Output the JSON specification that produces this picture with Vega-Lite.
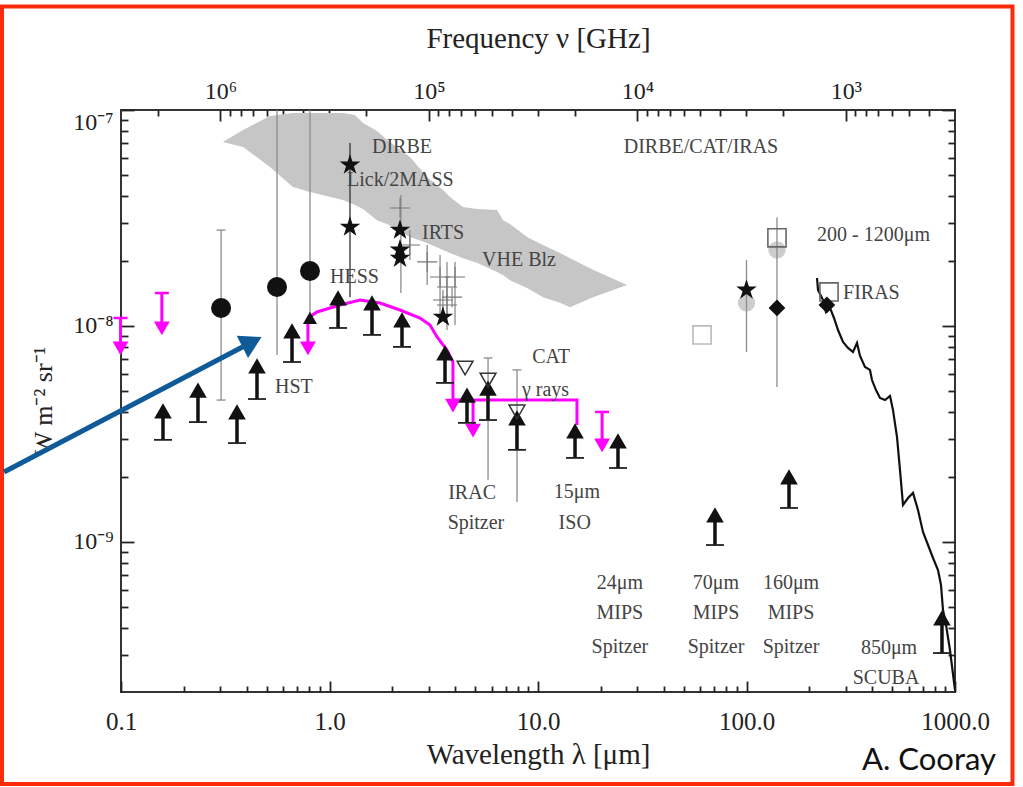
{
"$schema":"https://vega.github.io/schema/vega-lite/v6.json",
"width":834,"height":582,
"autosize":{"type":"none"},
"padding":{"left":121,"top":110,"right":68,"bottom":95},
"background":"white",
"config":{"view":{"stroke":"#333","strokeWidth":2},
"axis":{"domain":false,"grid":false,"ticks":true,"tickColor":"#222","tickWidth":1.8,"tickOpacity":1,"labelFont":"Liberation Serif","labelFontSize":25,"labelColor":"#222","titleFont":"Liberation Serif","titleFontWeight":"normal","titleColor":"#222","labelOverlap":false,"labelBound":false}},
"datasets":{
"dummy":[{"lam":1,"f":1e-8,"nu":100000}],
"frame":[{"x1":0.02687,"x2":1887,"y1":3.014e-7,"y2":7.58e-11}],
"band":[{"lam":0.308,"top":7.11e-8,"bot":7.11e-8},{"lam":0.385,"top":8.08e-8,"bot":6.74e-8},{"lam":0.518,"top":9.38e-8,"bot":5.45e-8},{"lam":0.668,"top":9.69e-8,"bot":4.40e-8},{"lam":0.806,"top":9.69e-8,"bot":4.17e-8},{"lam":1.161,"top":9.69e-8,"bot":3.83e-8},{"lam":1.325,"top":9.48e-8,"bot":3.63e-8},{"lam":1.448,"top":8.71e-8,"bot":3.48e-8},{"lam":1.690,"top":7.99e-8,"bot":3.09e-8},{"lam":1.887,"top":7.26e-8,"bot":2.97e-8},{"lam":2.433,"top":6.06e-8,"bot":2.58e-8},{"lam":2.935,"top":4.89e-8,"bot":2.42e-8},{"lam":3.503,"top":4.26e-8,"bot":2.25e-8},{"lam":3.784,"top":3.96e-8,"bot":2.18e-8},{"lam":4.368,"top":3.56e-8,"bot":2.06e-8},{"lam":5.098,"top":3.48e-8,"bot":1.96e-8},{"lam":6.360,"top":3.44e-8,"bot":1.78e-8},{"lam":6.794,"top":3.09e-8,"bot":1.72e-8},{"lam":7.340,"top":2.97e-8,"bot":1.63e-8},{"lam":8.856,"top":2.58e-8,"bot":1.50e-8},{"lam":10.57,"top":2.37e-8,"bot":1.36e-8},{"lam":12.75,"top":2.18e-8,"bot":1.28e-8},{"lam":14.24,"top":2.06e-8,"bot":1.22e-8},{"lam":18.36,"top":1.82e-8,"bot":1.36e-8},{"lam":26.73,"top":1.55e-8,"bot":1.55e-8}],
"greybars":[{"lam":0.302,"hi":2.78e-8,"lo":4.54e-9},{"lam":0.560,"hi":1e-7,"lo":7.34e-9},{"lam":0.806,"hi":1e-7,"lo":1.089e-8},{"lam":2.2,"hi":4.04e-8,"lo":1.421e-8},{"lam":100,"hi":2.02e-8,"lo":7.58e-9},{"lam":140,"hi":3.19e-8,"lo":5.22e-9},{"lam":5.76,"hi":7.11e-9,"lo":1.94e-9},{"lam":7.93,"hi":6.26e-9,"lo":1.53e-9},{"lam":2.43,"hi":2.78e-8,"lo":2.02e-8},{"lam":2.94,"hi":2.37e-8,"lo":1.55e-8},{"lam":3.39,"hi":2.13e-8,"lo":1.07e-8},{"lam":3.66,"hi":1.98e-8,"lo":9.58e-9},{"lam":4.0,"hi":1.98e-8,"lo":1.011e-8},{"lam":866,"hi":4.45e-10,"lo":3.06e-10}],
"blackbars":[{"lam":1.254,"hi":7.03e-8,"lo":1.36e-8}],
"greycaps":[{"lam":0.302,"f":2.78e-8},{"lam":0.302,"f":4.54e-9},{"lam":5.76,"f":7.11e-9},{"lam":7.93,"f":6.26e-9},{"lam":866,"f":3.06e-10}],
"crosses":[{"lam":2.18,"f":3.52e-8},{"lam":2.43,"f":2.37e-8},{"lam":2.94,"f":1.98e-8},{"lam":3.39,"f":1.686e-8},{"lam":3.66,"f":1.516e-8},{"lam":3.87,"f":1.36e-8},{"lam":3.50,"f":1.319e-8},{"lam":4.0,"f":1.686e-8},{"lam":3.66,"f":1.25e-8}],
"firas":[{"lam":217.9,"f":1.668e-8},{"lam":220.3,"f":1.468e-8},{"lam":232.8,"f":1.319e-8},{"lam":240.6,"f":1.161e-8},{"lam":251.5,"f":1.212e-8},{"lam":262.8,"f":1.089e-8},{"lam":274.7,"f":9.58e-9},{"lam":290.3,"f":8.43e-9},{"lam":306.8,"f":7.91e-9},{"lam":324.2,"f":7.58e-9},{"lam":338.8,"f":8.34e-9},{"lam":350.3,"f":7.26e-9},{"lam":370.1,"f":6.46e-9},{"lam":391.0,"f":6.26e-9},{"lam":399.8,"f":5.62e-9},{"lam":417.9,"f":5.05e-9},{"lam":436.8,"f":4.64e-9},{"lam":461.6,"f":4.54e-9},{"lam":487.9,"f":4.74e-9},{"lam":504.3,"f":4.08e-9},{"lam":527.1,"f":3.06e-9},{"lam":544.8,"f":2.15e-9},{"lam":563.2,"f":1.483e-9},{"lam":595.1,"f":1.598e-9},{"lam":628.9,"f":1.686e-9},{"lam":664.5,"f":1.406e-9},{"lam":702.2,"f":1.112e-9},{"lam":742.3,"f":9.68e-10},{"lam":784.4,"f":8.43e-10},{"lam":828.8,"f":7.42e-10},{"lam":856.7,"f":6.32e-10},{"lam":875.9,"f":4.84e-10},{"lam":905.4,"f":4.13e-10},{"lam":946.2,"f":3.16e-10},{"lam":1000,"f":2.06e-10}],
"magline":[{"i":1,"lam":0.788,"f":1.089e-8},{"i":2,"lam":0.871,"f":1.161e-8},{"i":3,"lam":1.123,"f":1.251e-8},{"i":4,"lam":1.401,"f":1.319e-8},{"i":5,"lam":1.747,"f":1.278e-8},{"i":6,"lam":2.178,"f":1.186e-8},{"i":7,"lam":2.717,"f":1.089e-8},{"i":8,"lam":3.034,"f":1.011e-8},{"i":9,"lam":3.279,"f":8.89e-9},{"i":10,"lam":3.660,"f":7.74e-9},{"i":11,"lam":3.91,"f":6.81e-9},{"i":12,"lam":3.91,"f":4.54e-9},{"i":13,"lam":15.38,"f":4.54e-9},{"i":14,"lam":15.38,"f":3.48e-9}],
"uplim":[{"lam":0.0995,"top":1.089e-8,"head":7.87e-9},{"lam":0.157,"top":1.421e-8,"head":9.74e-9},{"lam":0.788,"top":1.089e-8,"head":7.87e-9},{"lam":3.91,"top":4.54e-9,"head":4.28e-9},{"lam":4.88,"top":4.54e-9,"head":3.28e-9},{"lam":20.3,"top":4.00e-9,"head":2.80e-9}],
"uplimcaps":[{"lam":0.0995,"f":1.089e-8},{"lam":0.157,"f":1.421e-8},{"lam":20.3,"f":4.00e-9}],
"lowlim":[{"lam":0.159,"head":4.04e-9,"cap":2.97e-9},{"lam":0.234,"head":5.05e-9,"cap":3.59e-9},{"lam":0.36,"head":4.00e-9,"cap":2.87e-9},{"lam":0.449,"head":6.53e-9,"cap":4.59e-9},{"lam":0.661,"head":9.48e-9,"cap":6.81e-9},{"lam":1.099,"head":1.348e-8,"cap":9.79e-9},{"lam":1.599,"head":1.278e-8,"cap":9.09e-9},{"lam":2.227,"head":1.066e-8,"cap":8.00e-9},{"lam":3.581,"head":7.50e-9,"cap":5.45e-9},{"lam":4.565,"head":4.79e-9,"cap":3.56e-9},{"lam":5.756,"head":5.16e-9,"cap":3.67e-9},{"lam":7.928,"head":3.75e-9,"cap":2.67e-9},{"lam":15.05,"head":3.27e-9,"cap":2.45e-9},{"lam":24.19,"head":2.94e-9,"cap":2.20e-9},{"lam":70.6,"head":1.334e-9,"cap":9.68e-10},{"lam":159.9,"head":2.00e-9,"cap":1.437e-9},{"lam":866,"head":4.45e-10,"cap":3.06e-10}],
"tri":[{"lam":0.806,"f":1.09e-8}],
"circles":[{"lam":0.302,"f":1.212e-8},{"lam":0.560,"f":1.516e-8},{"lam":0.806,"f":1.797e-8}],
"blobs":[{"lam":100,"f":1.28e-8},{"lam":140,"f":2.25e-8}],
"stars":[{"lam":1.254,"f":5.57e-8},{"lam":1.254,"f":2.87e-8},{"lam":2.178,"f":2.78e-8},{"lam":2.178,"f":2.25e-8},{"lam":2.178,"f":2.06e-8},{"lam":3.50,"f":1.10e-8},{"lam":100,"f":1.468e-8}],
"opentri":[{"lam":4.47,"f":6.39e-9},{"lam":5.76,"f":5.62e-9},{"lam":7.93,"f":4.0e-9}],
"sqlight":[{"lam":61.2,"f":9.09e-9}],
"sqdark":[{"lam":140,"f":2.56e-8},{"lam":248.7,"f":1.437e-8}],
"diamonds":[{"lam":140,"f":1.212e-8},{"lam":243,"f":1.251e-8}],
"textleft":[{"lam":1.213,"f":4.74e-8,"t":"Lick/2MASS"},{"lam":2.777,"f":2.69e-8,"t":"IRTS"},{"lam":5.39,"f":2.02e-8,"t":"VHE Blz"},{"lam":1.006,"f":1.686e-8,"t":"HESS"},{"lam":0.548,"f":5.22e-9,"t":"HST"},{"lam":8.38,"f":5.05e-9,"t":"γ rays"},{"lam":217.9,"f":2.64e-8,"t":"200 - 1200μm"},{"lam":290.3,"f":1.421e-8,"t":"FIRAS"}],
"textcenter":[{"lam":2.227,"f":6.74e-8,"t":"DIRBE"},{"lam":60.5,"f":6.74e-8,"t":"DIRBE/CAT/IRAS"},{"lam":11.55,"f":7.19e-9,"t":"CAT"},{"lam":4.83,"f":1.686e-9,"t":"IRAC"},{"lam":5.04,"f":1.225e-9,"t":"Spitzer"},{"lam":15.38,"f":1.704e-9,"t":"15μm"},{"lam":15.0,"f":1.225e-9,"t":"ISO"},{"lam":24.7,"f":6.46e-10,"t":"24μm"},{"lam":24.7,"f":4.69e-10,"t":"MIPS"},{"lam":24.7,"f":3.27e-10,"t":"Spitzer"},{"lam":71.4,"f":6.46e-10,"t":"70μm"},{"lam":71.4,"f":4.69e-10,"t":"MIPS"},{"lam":71.4,"f":3.27e-10,"t":"Spitzer"},{"lam":163.5,"f":6.46e-10,"t":"160μm"},{"lam":163.5,"f":4.69e-10,"t":"MIPS"},{"lam":163.5,"f":3.27e-10,"t":"Spitzer"},{"lam":482.6,"f":3.23e-10,"t":"850μm"},{"lam":466.9,"f":2.35e-10,"t":"SCUBA"}],
"blueline":[{"lam":0.02747,"f":2.11e-9},{"lam":0.4249,"f":8.43e-9}],
"bluehead":[{"lam":0.4249,"f":8.43e-9}],
"credit":[{"lam":750.5,"f":8.80e-11,"t":"A. Cooray"}]
},
"resolve":{"scale":{"x":"independent"},"axis":{"x":"independent"}},
"layer":[
{
"resolve":{"axis":{"x":"independent","y":"independent"}},
"layer":[
{"data":{"name":"frame"},"mark":{"type":"rect","clip":false,"filled":false,"color":"#fd2b0b","strokeWidth":4},
"encoding":{"x":{"field":"x1","type":"quantitative","scale":{"type":"log","domain":[0.1,1000],"nice":false},"axis":null},"x2":{"field":"x2"},"y":{"field":"y1","type":"quantitative","scale":{"type":"log","domain":[2.02e-10,1e-7],"nice":false},"axis":null},"y2":{"field":"y2"}}},
{"data":{"name":"band"},"mark":{"type":"area","color":"#c6c6c6","clip":true,"opacity":1},
"encoding":{"x":{"field":"lam","type":"quantitative","scale":{"type":"log","domain":[0.1,1000],"nice":false},"axis":null},"y":{"field":"top","type":"quantitative","scale":{"type":"log","domain":[2.02e-10,1e-7],"nice":false},"axis":null},"y2":{"field":"bot"}}},
{"data":{"name":"blobs"},"mark":{"type":"point","filled":true,"color":"#cdcdcd","opacity":1,"size":300,"clip":true},
"encoding":{"x":{"field":"lam","type":"quantitative","scale":{"type":"log","domain":[0.1,1000],"nice":false},"axis":null},"y":{"field":"f","type":"quantitative","scale":{"type":"log","domain":[2.02e-10,1e-7],"nice":false},"axis":null}}},
{"data":{"name":"greybars"},"mark":{"type":"rule","color":"#8c8c8c","strokeWidth":1.3,"clip":true},
"encoding":{"x":{"field":"lam","type":"quantitative","scale":{"type":"log","domain":[0.1,1000],"nice":false},"axis":null},"y":{"field":"hi","type":"quantitative","scale":{"type":"log","domain":[2.02e-10,1e-7],"nice":false},"axis":null},"y2":{"field":"lo"}}},
{"data":{"name":"blackbars"},"mark":{"type":"rule","color":"#333","strokeWidth":1.3,"clip":true},
"encoding":{"x":{"field":"lam","type":"quantitative","scale":{"type":"log","domain":[0.1,1000],"nice":false},"axis":null},"y":{"field":"hi","type":"quantitative","scale":{"type":"log","domain":[2.02e-10,1e-7],"nice":false},"axis":null},"y2":{"field":"lo"}}},
{"data":{"name":"crosses"},"mark":{"type":"point","shape":"M-1,0L1,0M0,-1L0,1","filled":false,"stroke":"#777","strokeWidth":1.1,"opacity":1,"size":400,"clip":true},
"encoding":{"x":{"field":"lam","type":"quantitative","scale":{"type":"log","domain":[0.1,1000],"nice":false},"axis":null},"y":{"field":"f","type":"quantitative","scale":{"type":"log","domain":[2.02e-10,1e-7],"nice":false},"axis":null}}},
{"data":{"name":"greycaps"},"mark":{"type":"tick","orient":"horizontal","size":9,"thickness":1.3,"color":"#8c8c8c","opacity":1,"clip":true},
"encoding":{"x":{"field":"lam","type":"quantitative","scale":{"type":"log","domain":[0.1,1000],"nice":false},"axis":null},"y":{"field":"f","type":"quantitative","scale":{"type":"log","domain":[2.02e-10,1e-7],"nice":false},"axis":null}}},
{"data":{"name":"firas"},"mark":{"type":"line","color":"#111","strokeWidth":2.2,"clip":true},
"encoding":{"x":{"field":"lam","type":"quantitative","scale":{"type":"log","domain":[0.1,1000],"nice":false},"axis":null},"y":{"field":"f","type":"quantitative","scale":{"type":"log","domain":[2.02e-10,1e-7],"nice":false},"axis":null}}},
{"data":{"name":"magline"},"mark":{"type":"line","color":"#ff00ff","strokeWidth":3,"clip":true},
"encoding":{"x":{"field":"lam","type":"quantitative","scale":{"type":"log","domain":[0.1,1000],"nice":false},"axis":null},"y":{"field":"f","type":"quantitative","scale":{"type":"log","domain":[2.02e-10,1e-7],"nice":false},"axis":null},"order":{"field":"i","type":"quantitative"}}},
{"data":{"name":"uplim"},"mark":{"type":"rule","color":"#ff00ff","strokeWidth":3,"clip":false},
"encoding":{"x":{"field":"lam","type":"quantitative","scale":{"type":"log","domain":[0.1,1000],"nice":false},"axis":null},"y":{"field":"top","type":"quantitative","scale":{"type":"log","domain":[2.02e-10,1e-7],"nice":false},"axis":null},"y2":{"field":"head"}}},
{"data":{"name":"uplimcaps"},"mark":{"type":"tick","orient":"horizontal","size":14,"thickness":2.5,"color":"#ff00ff","opacity":1,"clip":false},
"encoding":{"x":{"field":"lam","type":"quantitative","scale":{"type":"log","domain":[0.1,1000],"nice":false},"axis":null},"y":{"field":"f","type":"quantitative","scale":{"type":"log","domain":[2.02e-10,1e-7],"nice":false},"axis":null}}},
{"data":{"name":"uplim"},"mark":{"type":"point","shape":"triangle-down","filled":true,"color":"#ff00ff","opacity":1,"size":250,"clip":false},
"encoding":{"x":{"field":"lam","type":"quantitative","scale":{"type":"log","domain":[0.1,1000],"nice":false},"axis":null},"y":{"field":"head","type":"quantitative","scale":{"type":"log","domain":[2.02e-10,1e-7],"nice":false},"axis":null}}},
{"data":{"name":"lowlim"},"mark":{"type":"rule","color":"#111","strokeWidth":3.5,"clip":true},
"encoding":{"x":{"field":"lam","type":"quantitative","scale":{"type":"log","domain":[0.1,1000],"nice":false},"axis":null},"y":{"field":"head","type":"quantitative","scale":{"type":"log","domain":[2.02e-10,1e-7],"nice":false},"axis":null},"y2":{"field":"cap"}}},
{"data":{"name":"lowlim"},"mark":{"type":"tick","orient":"horizontal","size":18,"thickness":1.8,"color":"#222","opacity":1,"clip":true},
"encoding":{"x":{"field":"lam","type":"quantitative","scale":{"type":"log","domain":[0.1,1000],"nice":false},"axis":null},"y":{"field":"cap","type":"quantitative","scale":{"type":"log","domain":[2.02e-10,1e-7],"nice":false},"axis":null}}},
{"data":{"name":"lowlim"},"mark":{"type":"point","shape":"triangle-up","filled":true,"color":"#111","opacity":1,"size":310,"clip":true},
"encoding":{"x":{"field":"lam","type":"quantitative","scale":{"type":"log","domain":[0.1,1000],"nice":false},"axis":null},"y":{"field":"head","type":"quantitative","scale":{"type":"log","domain":[2.02e-10,1e-7],"nice":false},"axis":null}}},
{"data":{"name":"tri"},"mark":{"type":"point","shape":"triangle-up","filled":true,"color":"#111","opacity":1,"size":200,"clip":true},
"encoding":{"x":{"field":"lam","type":"quantitative","scale":{"type":"log","domain":[0.1,1000],"nice":false},"axis":null},"y":{"field":"f","type":"quantitative","scale":{"type":"log","domain":[2.02e-10,1e-7],"nice":false},"axis":null}}},
{"data":{"name":"circles"},"mark":{"type":"point","shape":"circle","filled":true,"color":"#111","opacity":1,"size":400,"clip":true},
"encoding":{"x":{"field":"lam","type":"quantitative","scale":{"type":"log","domain":[0.1,1000],"nice":false},"axis":null},"y":{"field":"f","type":"quantitative","scale":{"type":"log","domain":[2.02e-10,1e-7],"nice":false},"axis":null}}},
{"data":{"name":"stars"},"mark":{"type":"point","shape":"M0,-1L0.2245,-0.309L0.9511,-0.309L0.3633,0.118L0.5878,0.809L0,0.382L-0.5878,0.809L-0.3633,0.118L-0.9511,-0.309L-0.2245,-0.309Z","filled":true,"color":"#111","opacity":1,"size":470,"clip":true},
"encoding":{"x":{"field":"lam","type":"quantitative","scale":{"type":"log","domain":[0.1,1000],"nice":false},"axis":null},"y":{"field":"f","type":"quantitative","scale":{"type":"log","domain":[2.02e-10,1e-7],"nice":false},"axis":null}}},
{"data":{"name":"opentri"},"mark":{"type":"point","shape":"triangle-down","filled":false,"stroke":"#333","strokeWidth":1.5,"opacity":1,"size":250,"clip":true},
"encoding":{"x":{"field":"lam","type":"quantitative","scale":{"type":"log","domain":[0.1,1000],"nice":false},"axis":null},"y":{"field":"f","type":"quantitative","scale":{"type":"log","domain":[2.02e-10,1e-7],"nice":false},"axis":null}}},
{"data":{"name":"sqlight"},"mark":{"type":"point","shape":"square","filled":false,"stroke":"#bbbbbb","strokeWidth":1.6,"opacity":1,"size":330,"clip":true},
"encoding":{"x":{"field":"lam","type":"quantitative","scale":{"type":"log","domain":[0.1,1000],"nice":false},"axis":null},"y":{"field":"f","type":"quantitative","scale":{"type":"log","domain":[2.02e-10,1e-7],"nice":false},"axis":null}}},
{"data":{"name":"sqdark"},"mark":{"type":"point","shape":"square","filled":false,"stroke":"#666","strokeWidth":1.6,"opacity":1,"size":330,"clip":true},
"encoding":{"x":{"field":"lam","type":"quantitative","scale":{"type":"log","domain":[0.1,1000],"nice":false},"axis":null},"y":{"field":"f","type":"quantitative","scale":{"type":"log","domain":[2.02e-10,1e-7],"nice":false},"axis":null}}},
{"data":{"name":"diamonds"},"mark":{"type":"point","shape":"diamond","filled":true,"color":"#111","opacity":1,"size":280,"clip":true},
"encoding":{"x":{"field":"lam","type":"quantitative","scale":{"type":"log","domain":[0.1,1000],"nice":false},"axis":null},"y":{"field":"f","type":"quantitative","scale":{"type":"log","domain":[2.02e-10,1e-7],"nice":false},"axis":null}}},
{"data":{"name":"textleft"},"mark":{"type":"text","align":"left","baseline":"middle","font":"Liberation Serif","fontSize":20,"color":"#444"},
"encoding":{"x":{"field":"lam","type":"quantitative","scale":{"type":"log","domain":[0.1,1000],"nice":false},"axis":null},"y":{"field":"f","type":"quantitative","scale":{"type":"log","domain":[2.02e-10,1e-7],"nice":false},"axis":null},"text":{"field":"t"}}},
{"data":{"name":"textcenter"},"mark":{"type":"text","align":"center","baseline":"middle","font":"Liberation Serif","fontSize":20,"color":"#444"},
"encoding":{"x":{"field":"lam","type":"quantitative","scale":{"type":"log","domain":[0.1,1000],"nice":false},"axis":null},"y":{"field":"f","type":"quantitative","scale":{"type":"log","domain":[2.02e-10,1e-7],"nice":false},"axis":null},"text":{"field":"t"}}},
{"data":{"name":"blueline"},"mark":{"type":"line","color":"#0f5b9a","strokeWidth":5,"clip":false},
"encoding":{"x":{"field":"lam","type":"quantitative","scale":{"type":"log","domain":[0.1,1000],"nice":false},"axis":null},"y":{"field":"f","type":"quantitative","scale":{"type":"log","domain":[2.02e-10,1e-7],"nice":false},"axis":null}}},
{"data":{"name":"bluehead"},"mark":{"type":"point","shape":"triangle-right","angle":-27,"filled":true,"color":"#0f5b9a","opacity":1,"size":620,"clip":false},
"encoding":{"x":{"field":"lam","type":"quantitative","scale":{"type":"log","domain":[0.1,1000],"nice":false},"axis":null},"y":{"field":"f","type":"quantitative","scale":{"type":"log","domain":[2.02e-10,1e-7],"nice":false},"axis":null}}},
{"data":{"name":"credit"},"mark":{"type":"text","align":"center","baseline":"alphabetic","font":"Lato","fontSize":31,"color":"#111","clip":false},
"encoding":{"x":{"field":"lam","type":"quantitative","scale":{"type":"log","domain":[0.1,1000],"nice":false},"axis":null},"y":{"field":"f","type":"quantitative","scale":{"type":"log","domain":[2.02e-10,1e-7],"nice":false},"axis":null},"text":{"field":"t"}}},
{"data":{"name":"dummy"},"mark":{"type":"point","opacity":0},
"encoding":{"x":{"field":"lam","type":"quantitative","scale":{"type":"log","domain":[0.1,1000],"nice":false},"axis":{"orient":"bottom","values":[0.2,0.3,0.4,0.5,0.6,0.7,0.8,0.9,2,3,4,5,6,7,8,9,20,30,40,50,60,70,80,90,200,300,400,500,600,700,800,900],"offset":-6,"tickSize":6,"labels":false,"title":null}},
"y":{"field":"f","type":"quantitative","scale":{"type":"log","domain":[2.02e-10,1e-7],"nice":false},"axis":{"orient":"left","values":[3e-10,4e-10,5e-10,6e-10,7e-10,8e-10,9e-10,2e-9,3e-9,4e-9,5e-9,6e-9,7e-9,8e-9,9e-9,2e-8,3e-8,4e-8,5e-8,6e-8,7e-8,8e-8,9e-8],"offset":-7,"tickSize":7,"labels":false,"title":null}}}},
{"data":{"name":"dummy"},"mark":{"type":"point","opacity":0},
"encoding":{"x":{"field":"lam","type":"quantitative","scale":{"type":"log","domain":[0.1,1000],"nice":false},"axis":{"orient":"bottom","values":[0.1,1,10,100,1000],"format":".1f","offset":-11,"tickSize":11,"labelPadding":17,"labelFlush":false,"title":"Wavelength λ [μm]","titleFontSize":29,"titlePadding":6}},
"y":{"field":"f","type":"quantitative","scale":{"type":"log","domain":[2.02e-10,1e-7],"nice":false},"axis":{"orient":"left","values":[1e-9,1e-8,1e-7],"labelExpr":"datum.value > 5e-8 ? '10⁻⁷' : datum.value > 5e-9 ? '10⁻⁸' : '10⁻⁹'","offset":-13,"tickSize":13,"labelPadding":8,"labelFlush":true,"labelFontSize":24,"title":"W m⁻² sr⁻¹","titleFontSize":26,"titlePadding":16}}}},
{"data":{"name":"dummy"},"mark":{"type":"point","opacity":0},
"encoding":{"y":{"field":"f","type":"quantitative","scale":{"type":"log","domain":[2.02e-10,1e-7],"nice":false},"axis":{"orient":"right","values":[3e-10,4e-10,5e-10,6e-10,7e-10,8e-10,9e-10,2e-9,3e-9,4e-9,5e-9,6e-9,7e-9,8e-9,9e-9,2e-8,3e-8,4e-8,5e-8,6e-8,7e-8,8e-8,9e-8],"offset":-7,"tickSize":7,"labels":false,"title":null}}}},
{"data":{"name":"dummy"},"mark":{"type":"point","opacity":0},
"encoding":{"y":{"field":"f","type":"quantitative","scale":{"type":"log","domain":[2.02e-10,1e-7],"nice":false},"axis":{"orient":"right","values":[1e-9,1e-8,1e-7],"offset":-13,"tickSize":13,"labels":false,"title":null}}}}
]
},
{
"resolve":{"axis":{"x":"independent"}},
"layer":[
{"data":{"name":"dummy"},"mark":{"type":"point","opacity":0},
"encoding":{"x":{"field":"nu","type":"quantitative","scale":{"type":"log","domain":[299.8,2998000],"reverse":true,"nice":false},"axis":{"orient":"top","values":[2000000,900000,800000,700000,600000,500000,400000,300000,200000,90000,80000,70000,60000,50000,40000,30000,20000,9000,8000,7000,6000,5000,4000,3000,2000,900,800,700,600,500,400],"offset":-6,"tickSize":6,"labels":false,"title":null}}}},
{"data":{"name":"dummy"},"mark":{"type":"point","opacity":0},
"encoding":{"x":{"field":"nu","type":"quantitative","scale":{"type":"log","domain":[299.8,2998000],"reverse":true,"nice":false},"axis":{"orient":"top","values":[1000000,100000,10000,1000],"labelExpr":"datum.value > 500000 ? '10⁶' : datum.value > 50000 ? '10⁵' : datum.value > 5000 ? '10⁴' : '10³'","offset":-11,"tickSize":11,"labelPadding":7,"labelFlush":false,"labelFontSize":24,"title":"Frequency ν [GHz]","titleFontSize":29,"titlePadding":26}}}}
]
}
]
}
